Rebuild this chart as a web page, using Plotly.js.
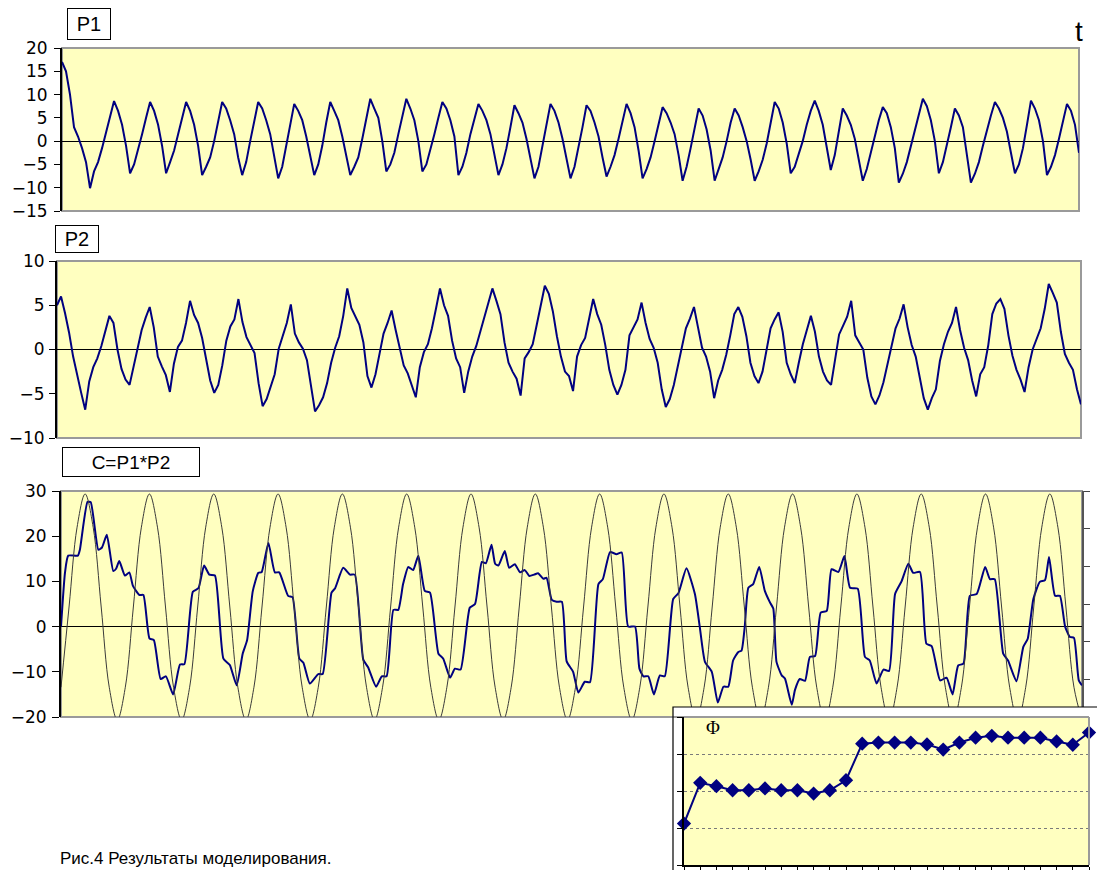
<!DOCTYPE html>
<html>
<head>
<meta charset="utf-8">
<script src="https://cdn.plot.ly/plotly-3.0.1.min.js"></script>
<style>html,body{margin:0;padding:0;background:#fff;}#chart{width:1097px;height:870px;}</style>
</head>
<body>
<div id="chart"></div>
<script>
// ---------- DATA ----------
// P1 samples (uniform time step, index 0..254)
var p1Values = [17,15,10,3,1,-1.5,-4.5,-10.1,-6.5,-4.5,
-1.5,2,5.5,8.6,6.5,3.5,-1,-6.9,-5,-2,
1.5,5,8.4,6.5,3.5,-1,-6.9,-4.5,-2,1.5,
5,8.4,6.5,3.5,-1,-7.3,-5.5,-3.5,0,4.5,
8.4,7,4.5,1.5,-3.5,-7.3,-4.5,0,4.5,8.4,
7,4.5,1.5,-3.5,-8,-5.5,-1,4,8,6.5,
4.5,1,-3.5,-7.3,-5,-1,4,8.4,6.5,4.5,
1,-3.5,-7.3,-5.5,-3.5,0.5,5,9.1,7,5,
0,-6.5,-5,-2.5,1.5,5.5,9.1,7,4.5,0,
-6.5,-5,-2,1.5,5,8.4,7,4.5,1,-7.3,
-5.5,-2.5,1.5,5,8,6.5,4.5,1.5,-3,-7.3,
-5,-1.5,3,7.7,6,4,0.5,-4,-8,-5.5,
-1,4,8,6.5,4,0.5,-4,-8,-5.5,-1.5,
3,7.7,6.5,4,1,-3.5,-7.6,-5.5,-3,0.5,
4.5,8,6,3,-2,-8,-6,-3.5,0,4,
7.3,6,4,1.5,-3,-8.5,-5.5,-1.5,3,7,
5.5,2.5,-2,-8.5,-6,-3.5,0,4,7,5.5,
3,0,-4,-8.5,-6.5,-4,-0.5,4,8.4,7,
4,-0.5,-6.9,-5.5,-3,0,3.5,6.5,8.7,6.5,
3.5,-1,-6.2,-3,2.5,7,5.5,3.5,0.5,-4,
-8.5,-6,-2.5,1,4.5,7.3,6,3,-1.5,-8.9,
-7,-4.5,-1,2.5,6,9.1,7.5,4.5,0,-6.9,
-4.5,-1,3,7,5.5,3,-2.5,-8.9,-7,-4.5,
-1,2.5,5.5,8.4,7,5,2,-2.5,-6.9,-5,
-1.5,3.5,8.7,7,4.5,0,-7.3,-5.5,-3,0.5,
4.5,8,6.5,3.5,-2.5];

// P2 samples (uniform time step, index 0..254)
var p2Values = [5.0,6.0,4.1,1.9,-0.8,-3.0,-4.9,-6.8,-3.6,-2.0,
-1.0,0.4,2.2,3.8,3.0,0.0,-2.2,-3.4,-4.0,-2.0,
0.2,2.2,3.6,4.8,2.5,-0.8,-1.9,-2.9,-4.8,-1.6,
0.3,1.0,3.0,5.5,3.9,3.0,1.3,-1.2,-3.5,-4.9,
-4.0,-1.8,1.0,2.6,3.4,5.7,3.1,1.4,0.5,-0.4,
-3.8,-6.4,-5.6,-4.2,-2.8,0.1,1.7,3.0,5.1,1.8,
0.8,0.1,-1.2,-4.2,-7.0,-6.3,-5.4,-3.8,-1.5,0.2,
1.5,3.8,6.9,4.7,3.8,2.8,0.8,-3.0,-4.3,-2.8,
-0.5,1.8,3.0,4.4,2.2,0.0,-1.8,-2.7,-4.0,-5.4,
-2.0,-0.3,0.6,2.4,4.6,6.9,5.0,3.8,1.0,-1.0,
-2.0,-4.9,-2.5,-0.8,0.4,2.0,3.6,5.0,6.9,5.5,
4.0,0.8,-1.5,-2.5,-3.3,-5.2,-1.0,-0.3,0.6,2.8,
5.0,7.2,6.3,4.3,1.5,-0.8,-2.5,-3.0,-4.7,-0.8,
0.5,1.3,3.5,5.7,4.0,2.8,0.5,-2.3,-4.0,-5.1,
-4.0,-2.3,1.6,2.5,3.4,5.3,3.0,1.2,0.2,-1.5,
-4.5,-6.5,-5.6,-4.0,-1.8,0.5,2.4,3.5,4.8,2.5,
0.2,-0.8,-2.5,-5.5,-3.5,-2.3,-0.6,1.6,4.0,4.8,
3.7,1.5,-1.5,-3.0,-3.8,-2.5,-0.2,2.4,3.4,4.2,
2.0,-1.5,-2.8,-3.8,-1.5,0.6,2.2,3.8,2.0,-0.8,
-2.5,-3.5,-4.0,-1.0,1.7,2.7,3.7,5.5,1.6,0.8,
0.0,-3.2,-5.3,-6.2,-5.2,-3.7,-1.7,0.5,2.4,3.5,
5.1,2.5,0.5,-0.8,-3.0,-5.5,-6.8,-5.5,-4.5,-1.3,
0.6,2.0,3.0,4.8,2.2,0.2,-1.2,-3.5,-5.3,-2.8,
-2.0,0.5,4.0,5.2,5.7,4.6,1.6,-0.7,-2.3,-3.4,
-4.8,-2.0,0.0,1.1,2.4,4.6,7.4,6.4,5.3,2.0,
-0.5,-1.5,-2.3,-4.5,-6.2];

// C = P1*P2 (time, value) pairs
var cTime = [0,1.0,1.8,4.2,4.7,6.6,7.4,9.3,10.2,11.4,
13.0,13.7,14.5,15.9,17.0,17.9,19.5,20.5,22.0,23.1,
24.8,26.1,27.9,29.6,30.7,32.8,34.2,35.6,36.9,38.3,
40.4,42.0,43.7,45.2,46.3,47.7,49.1,49.9,51.6,53.2,
54.3,56.5,57.6,59.3,60.3,61.9,64.0,65.1,67.3,68.2,
70.2,71.9,73.1,75.2,76.4,78.4,79.8,81.0,82.7,83.9,
85.1,86.4,87.6,88.9,90.5,91.8,93.9,95.1,96.8,98.0,
99.4,101.7,103.0,104.7,105.7,107.1,108.0,108.8,110.4,111.5,
112.9,114.2,115.4,116.5,117.7,118.7,120.0,120.8,122.1,123.3,
124.6,125.8,127.4,128.7,130.3,131.6,133.7,134.8,136.6,138.2,
139.5,141.1,142.8,143.9,144.9,146.1,147.5,149.0,150.2,152.3,
153.6,155.6,157.7,158.9,160.2,161.9,163.4,164.8,166.0,167.2,
168.5,169.3,170.1,171.0,172.2,173.7,175.1,176.4,177.2,178.0,
179.3,180.1,181.8,182.6,183.8,185.1,186.3,187.6,189.0,190.5,
191.7,193.4,194.9,196.3,198.2,200.0,201.2,202.9,204.6,206.0,
207.5,209.1,210.8,212.0,213.7,215.3,216.6,218.7,220.3,221.8,
223.2,224.5,226.1,227.8,229.9,231.1,232.3,234.4,235.6,237.7,
239.4,240.5,241.9,243.5,244.8,245.8,247.3,248.5,249.8,251.0,
252.0,253.2,254.0];
var cValues = [0,12,15.7,15.7,17,27.6,27.5,17,17.5,20.3,
12.3,12.8,14.5,11.3,12,9,7,7,-2.6,-3,
-11.6,-11,-15,-8.4,-8.3,7.7,8.5,13.5,11.5,11.3,
-7.1,-8.5,-13,-6,-3,7.8,11.9,12,18.5,12,
12,6.8,6.5,-7.1,-8,-12.6,-10.5,-10.5,7.5,8.5,
13,11.5,11.5,-7.3,-9,-13.3,-11,-11,3.7,3.7,
9.4,13.2,12.5,15.7,7.9,7.5,-6,-7.1,-11.3,-9.3,
-9.5,4.2,5,14.3,14,18.1,13.9,13.5,16.7,13,
13.8,12,12.5,11.2,11.5,11.8,10.6,10.8,5.9,5.5,
5.5,-7.7,-10,-14.6,-12.2,-12.3,9.4,10.5,16.5,16,
16.4,0,0,-9.3,-11,-11,-15,-10.8,-11,6.1,
7.4,12.9,7.2,0,-7.8,-10,-16.8,-13.3,-13.3,-7.5,
-5.6,-5.3,0,8.6,9.4,13.2,7.9,5.3,4,-7.8,
-10.8,-11.5,-17.3,-14,-11.6,-12,-6.7,-6.5,3.1,3.5,
12.7,12.1,15.6,8.6,8.4,-6.7,-7.5,-12.6,-9.5,-9.8,
7.2,10,13.9,11.9,12.1,-3.8,-4.3,-11.9,-11.3,-15,
-8.6,-8.2,6.8,7.2,13.2,10.5,10.5,-6,-7.5,-12.1,
-4.5,-2.7,6.1,9.9,10.3,15.4,6.8,6.8,0,-2.3,
-2.5,-11.9,-13];

// Thin reference sinusoid in panel C (every 2nd time step, secondary-axis units)
var refWave = [-2.21,-0.08,2.04,2.92,2.04,-0.08,-2.21,-3.08,
-2.21,-0.08,2.04,2.92,2.04,-0.08,-2.21,-3.08,
-2.21,-0.08,2.04,2.92,2.04,-0.08,-2.21,-3.08,
-2.21,-0.08,2.04,2.92,2.04,-0.08,-2.21,-3.08,
-2.21,-0.08,2.04,2.92,2.04,-0.08,-2.21,-3.08,
-2.21,-0.08,2.04,2.92,2.04,-0.08,-2.21,-3.08,
-2.21,-0.08,2.04,2.92,2.04,-0.08,-2.21,-3.08,
-2.21,-0.08,2.04,2.92,2.04,-0.08,-2.21,-3.08,
-2.21,-0.08,2.04,2.92,2.04,-0.08,-2.21,-3.08,
-2.21,-0.08,2.04,2.92,2.04,-0.08,-2.21,-3.08,
-2.21,-0.08,2.04,2.92,2.04,-0.08,-2.21,-3.08,
-2.21,-0.08,2.04,2.92,2.04,-0.08,-2.21,-3.08,
-2.21,-0.08,2.04,2.92,2.04,-0.08,-2.21,-3.08,
-2.21,-0.08,2.04,2.92,2.04,-0.08,-2.21,-3.08,
-2.21,-0.08,2.04,2.92,2.04,-0.08,-2.21,-3.08,
-2.21,-0.08,2.04,2.92,2.04,-0.08,-2.21,-3.08];

// Inset Φ (26 windows)
var phiValues = [1.12,2.22,2.13,2.02,2.02,2.07,2.02,2.02,1.93,2.02,2.29,3.28,3.31,3.31,3.31,3.26,3.12,3.31,3.44,3.49,3.44,3.44,3.44,3.34,3.25,3.58];

// Texts
var titleP1 = 'P1', titleP2 = 'P2', titleC = 'C=P1*P2', labelT = 't', labelPhi = 'Φ';
var caption = 'Рис.4 Результаты моделирования.';

// ---------- LAYOUT ----------
var W = 1097, H = 870;
function fx(p){ return p / W; }
function fy(p){ return 1 - p / H; }
var NAVY = '#000080', BG = '#FFFFC0', BORDER = '#9a9a9a';
var tickFont = {family: 'DejaVu Sans, Liberation Sans, Arial, sans-serif', size: 17, color: '#000'};

function yAxisMain(extra){
  var a = {showgrid: false, zeroline: true, zerolinecolor: '#000', zerolinewidth: 1,
    showline: true, linecolor: '#000', linewidth: 2, ticks: 'outside', ticklen: 6,
    tickcolor: '#000', tickwidth: 1, tickfont: tickFont, ticklabelstandoff: 3, fixedrange: true};
  for (var k in extra) a[k] = extra[k];
  return a;
}
function hiddenX(extra){
  var a = {visible: false, showgrid: false, zeroline: false, fixedrange: true};
  for (var k in extra) a[k] = extra[k];
  return a;
}

var traces = [
  {y: p1Values, x0: 0, dx: 1, xaxis: 'x', yaxis: 'y', type: 'scatter', mode: 'lines',
   line: {color: NAVY, width: 2}, hoverinfo: 'skip'},
  {y: p2Values, x0: 0, dx: 1, xaxis: 'x2', yaxis: 'y2', type: 'scatter', mode: 'lines',
   line: {color: NAVY, width: 2}, hoverinfo: 'skip'},
  {x: cTime, y: cValues, xaxis: 'x3', yaxis: 'y3', type: 'scatter', mode: 'lines',
   line: {color: NAVY, width: 2, shape: 'spline', smoothing: 0.5}, hoverinfo: 'skip'},
  {y: refWave, x0: 0, dx: 2, xaxis: 'x3', yaxis: 'y4', type: 'scatter', mode: 'lines',
   line: {color: '#3a3a3a', width: 1, shape: 'spline', smoothing: 1}, hoverinfo: 'skip'},
  {y: phiValues, x0: 1, dx: 1, xaxis: 'x4', yaxis: 'y5', type: 'scatter', mode: 'lines+markers',
   line: {color: NAVY, width: 2}, marker: {symbol: 'diamond', size: 11, color: NAVY},
   cliponaxis: false, hoverinfo: 'skip'}
];

var layout = {
  width: W, height: H, margin: {l: 0, r: 0, t: 0, b: 0},
  paper_bgcolor: '#ffffff', plot_bgcolor: BG, showlegend: false,
  font: {family: 'Liberation Sans, Arial, sans-serif', color: '#000'},
  xaxis: hiddenX({domain: [fx(62), fx(1079)], range: [0, 254], anchor: 'y'}),
  yaxis: yAxisMain({domain: [fy(211), fy(48)], range: [-15, 20], dtick: 5, tick0: 0, anchor: 'x'}),
  xaxis2: hiddenX({domain: [fx(57), fx(1081)], range: [0, 254], anchor: 'y2'}),
  yaxis2: yAxisMain({domain: [fy(438), fy(261)], range: [-10, 10], dtick: 5, tick0: 0, anchor: 'x2', ticklabelstandoff: 1}),
  xaxis3: hiddenX({domain: [fx(61), fx(1082)], range: [0, 254], anchor: 'y3'}),
  yaxis3: yAxisMain({domain: [fy(717), fy(491)], range: [-20, 30], dtick: 10, tick0: 0, anchor: 'x3', ticklen: 7, ticklabelstandoff: 2}),
  yaxis4: {overlaying: 'y3', side: 'right', anchor: 'x3', range: [-3, 3], tickvals: [-2, -1, 0, 1, 2, 3],
    ticks: 'outside', ticklen: 6, tickcolor: '#444', showticklabels: false, showline: true,
    linecolor: '#555', linewidth: 2, showgrid: false, zeroline: false, fixedrange: true},
  xaxis4: {domain: [fx(684), fx(1089)], range: [1, 26], anchor: 'y5', dtick: 1, tick0: 1,
    ticks: 'outside', ticklen: 5, tickcolor: '#000', showticklabels: false, showline: true,
    linecolor: '#000', linewidth: 1.5, showgrid: false, zeroline: false, fixedrange: true},
  yaxis5: {domain: [fy(865), fy(717)], range: [0, 4], anchor: 'x4', dtick: 1, tick0: 0,
    ticks: 'outside', ticklen: 5, tickcolor: '#000', showticklabels: false, showline: true,
    linecolor: '#000', linewidth: 2, showgrid: true, gridcolor: '#7a7a7a', griddash: 'dot',
    gridwidth: 1, zeroline: false, fixedrange: true},
  shapes: [
    {type: 'rect', xref: 'paper', yref: 'paper', layer: 'below', x0: fx(62), x1: fx(1079), y0: fy(211), y1: fy(48), line: {color: BORDER, width: 2}},
    {type: 'rect', xref: 'paper', yref: 'paper', layer: 'below', x0: fx(57), x1: fx(1081), y0: fy(438), y1: fy(261), line: {color: BORDER, width: 2}},
    {type: 'rect', xref: 'paper', yref: 'paper', layer: 'below', x0: fx(61), x1: fx(1082), y0: fy(717), y1: fy(491), line: {color: BORDER, width: 2}},
    {type: 'rect', xref: 'paper', yref: 'paper', layer: 'above', x0: fx(673), x1: fx(1097), y0: fy(716), y1: fy(707), fillcolor: '#ffffff', line: {width: 0}},
    {type: 'rect', xref: 'paper', yref: 'paper', layer: 'above', x0: fx(673), x1: fx(1105), y0: fy(880), y1: fy(707), line: {color: '#000', width: 1.2}},
    {type: 'line', xref: 'paper', yref: 'paper', layer: 'above', x0: fx(684), x1: fx(1089), y0: fy(717), y1: fy(717), line: {color: BORDER, width: 2}},
    {type: 'line', xref: 'paper', yref: 'paper', layer: 'above', x0: fx(1089), x1: fx(1089), y0: fy(717), y1: fy(865), line: {color: BORDER, width: 2}}
  ],
  annotations: [
    {text: titleP1, xref: 'paper', yref: 'paper', x: fx(67), y: fy(8), xanchor: 'left', yanchor: 'top', showarrow: false,
     font: {size: 20}, bgcolor: '#fff', bordercolor: '#000', borderwidth: 1, borderpad: 0, width: 42, height: 30},
    {text: titleP2, xref: 'paper', yref: 'paper', x: fx(55), y: fy(225), xanchor: 'left', yanchor: 'top', showarrow: false,
     font: {size: 20}, bgcolor: '#fff', bordercolor: '#000', borderwidth: 1, borderpad: 0, width: 42, height: 26},
    {text: titleC, xref: 'paper', yref: 'paper', x: fx(62), y: fy(447), xanchor: 'left', yanchor: 'top', showarrow: false,
     font: {size: 19}, bgcolor: '#fff', bordercolor: '#000', borderwidth: 1, borderpad: 0, width: 136, height: 28},
    {text: labelT, xref: 'paper', yref: 'paper', x: fx(1079), y: fy(31), xanchor: 'center', yanchor: 'middle', showarrow: false,
     font: {size: 28}},
    {text: labelPhi, xref: 'paper', yref: 'paper', x: fx(713), y: fy(727), xanchor: 'center', yanchor: 'middle', showarrow: false,
     font: {family: 'Liberation Serif, Times New Roman, serif', size: 19}},
    {text: caption, xref: 'paper', yref: 'paper', x: fx(58), y: fy(858), xanchor: 'left', yanchor: 'middle', showarrow: false,
     font: {size: 17}}
  ]
};

Plotly.newPlot('chart', traces, layout, {staticPlot: true, displayModeBar: false});
</script>
</body>
</html>
